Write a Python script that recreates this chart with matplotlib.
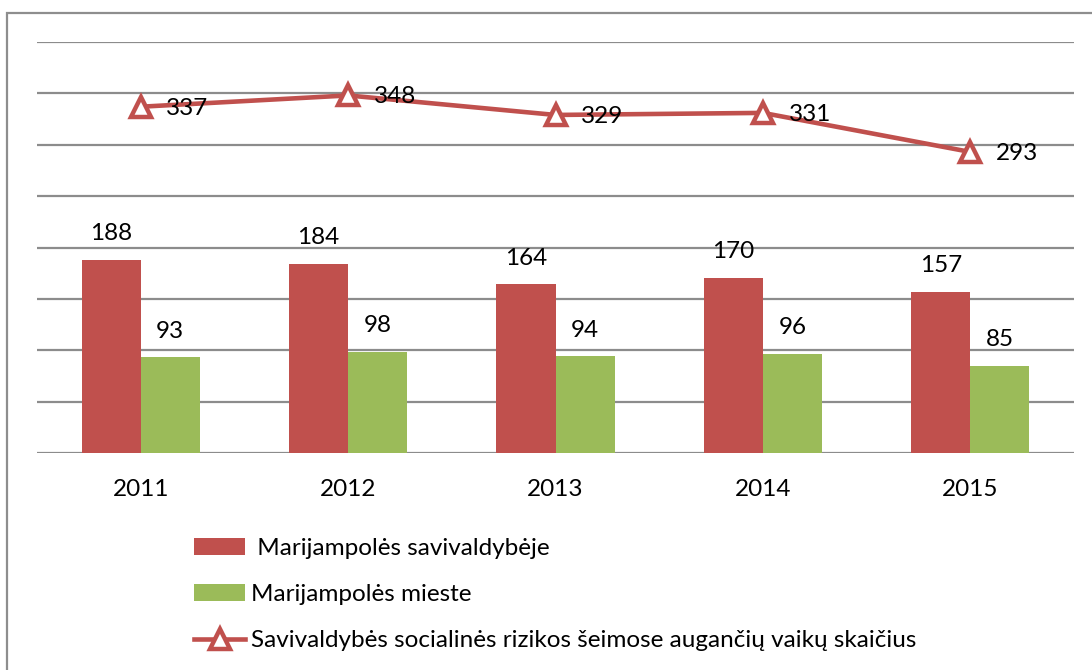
import matplotlib
matplotlib.use("Agg")
import matplotlib.pyplot as plt
from matplotlib.patches import Rectangle
import numpy as np

plt.rcParams['font.family'] = ['Lato', 'DejaVu Sans']

years = ['2011', '2012', '2013', '2014', '2015']
savivaldybeje = [188, 184, 164, 170, 157]
mieste = [93, 98, 94, 96, 85]
rizikos = [337, 348, 329, 331, 293]

labels = [' Marijampolės savivaldybėje', 'Marijampolės mieste',
          'Savivaldybės socialinės rizikos šeimose augančių vaikų skaičius']

RED = '#C0504D'
GREEN = '#9BBB59'
GRID = '#8C8C8C'
FS = 17.5

fig = plt.figure(figsize=(10.92, 6.70), dpi=100)
W, H = 1092, 670
ax = fig.add_axes([37 / W, 1 - 453 / H, (1074 - 37) / W, (453 - 42) / H])

x = np.arange(len(years))
bw = 0.285
b1 = ax.bar(x - bw / 2, savivaldybeje, bw, color=RED, label=labels[0], zorder=2)
b2 = ax.bar(x + bw / 2, mieste, bw, color=GREEN, label=labels[1], zorder=2)
ln, = ax.plot(x, rizikos, color=RED, lw=3.3, marker='^', markersize=15,
              markerfacecolor='white', markeredgecolor=RED, markeredgewidth=3.2,
              label=labels[2], zorder=3)

for xi, v in zip(x - bw / 2, savivaldybeje):
    ax.annotate(str(v), (xi, v), xytext=(0, 19), textcoords='offset points',
                ha='center', va='center', fontsize=FS)
for xi, v in zip(x + bw / 2, mieste):
    ax.annotate(str(v), (xi, v), xytext=(0, 19), textcoords='offset points',
                ha='center', va='center', fontsize=FS)
for xi, v in zip(x, rizikos):
    ax.annotate(str(v), (xi, v), xytext=(18.5, -1), textcoords='offset points',
                ha='left', va='center', fontsize=FS, zorder=4)

ax.set_xlim(-0.5, len(years) - 0.5)
ax.set_ylim(0, 400)
ax.set_yticks(np.arange(0, 401, 50))
ax.set_yticklabels([])
ax.set_xticks(x)
ax.set_xticklabels(years, fontsize=FS)
ax.tick_params(axis='both', length=0)
ax.tick_params(axis='x', pad=19)
ax.yaxis.grid(True, color=GRID, lw=1.6, zorder=0)
ax.set_axisbelow(True)
for s in ax.spines.values():
    s.set_visible(False)

fig.legend(handles=[b1, b2, ln], labels=labels, loc='upper left',
           bbox_to_anchor=(194 / W, 1 - 538 / H), frameon=False, fontsize=FS,
           handlelength=2.1, handletextpad=0.25, labelspacing=1.03,
           borderaxespad=0, borderpad=0)

fig.patches.append(Rectangle((7 / W, -0.1), 1.2, 1 - 13 / H + 0.1,
                             transform=fig.transFigure, fill=False,
                             edgecolor='#8E8E8E', lw=1.6))

fig.savefig('out.png', dpi=100)
